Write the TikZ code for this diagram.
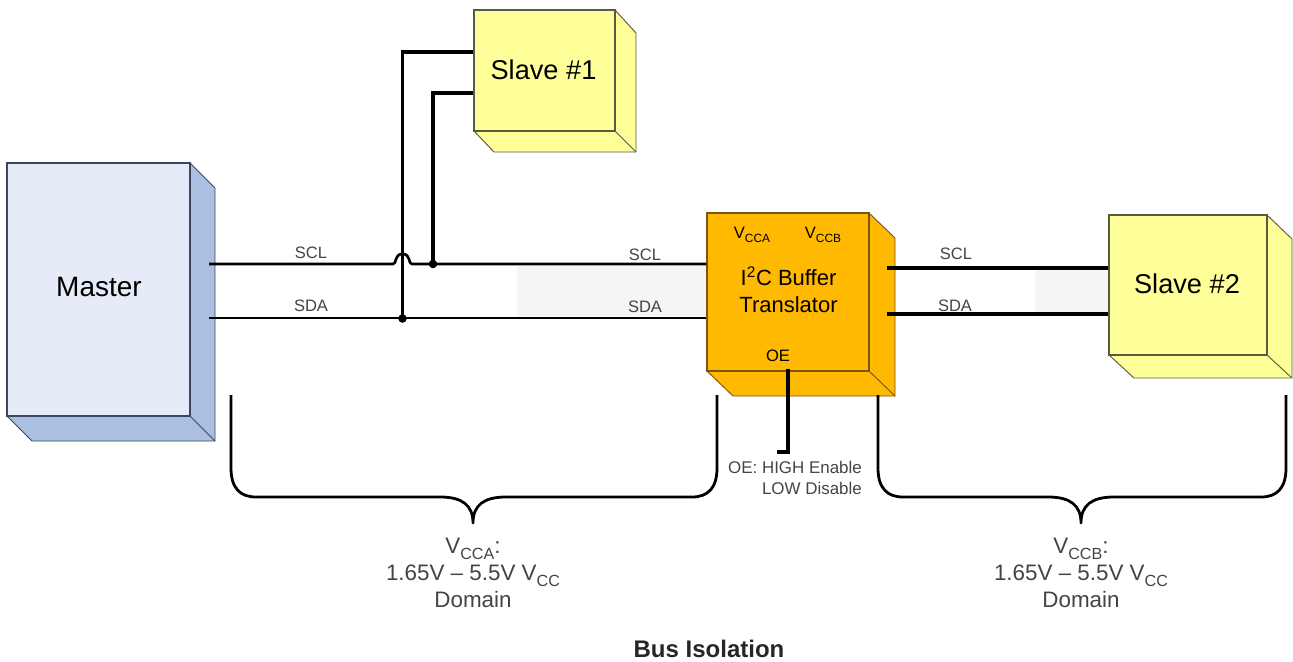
\documentclass[tikz,border=0pt]{standalone}
\usepackage{fontspec}
\setmainfont{Liberation Sans}
\newcommand{\fz}[2]{\fontsize{#1}{#2}\selectfont}
\newcommand{\lowsub}[1]{\raisebox{-0.28em}{\fontsize{0.72em}{1em}\selectfont #1}}
\definecolor{mfront}{HTML}{E6ECF7}
\definecolor{mside}{HTML}{ABC0E0}
\definecolor{sfront}{HTML}{FFFF99}
\definecolor{sside}{HTML}{FFFF99}
\definecolor{bfill}{HTML}{FFB900}
\definecolor{mline}{HTML}{3A4560}
\definecolor{sline}{HTML}{5A5A40}
\definecolor{bline}{HTML}{7A5518}
\definecolor{lab}{HTML}{444444}
\tikzset{
  face/.style={draw, rectangle, inner sep=0pt, line width=0.8pt, text=black, align=center},
  cubeline/.style={line width=0.7pt, line join=round},
  wirethin/.style={line width=2pt, black},
  wirethick/.style={line width=2.6pt, black},
  bracket/.style={line width=2.1pt, black, line join=round},
  jdot/.style={circle, fill=black, inner sep=0pt, minimum size=6.4pt},
  smalllab/.style={text=lab, font=\fz{12.4pt}{15pt}, inner sep=0pt},
  vlab/.style={text=black, font=\fz{12.4pt}{15pt}, inner sep=0pt},
  domlabel/.style={text=lab, font=\fz{16.8pt}{20.2pt}, align=center, inner sep=0pt},
  notelabel/.style={text=lab, font=\fz{12.7pt}{15.7pt}, align=right, inner sep=0pt},
  faintshade/.style={fill=black!4, draw=none},
}
\begin{document}
\begin{tikzpicture}[x=0.75pt,y=-0.75pt]
\useasboundingbox (0,0) rectangle (1293,661);
% faint shading
\fill[faintshade] (517,266) rectangle (707,316);
\fill[faintshade] (1035,270) rectangle (1109,312);
% Master
\filldraw[cubeline, fill=mside, draw=mline] (190,163) -- (215,188) -- (215,441) -- (32,441) -- (7,416) -- (190,416) -- cycle;
\draw[cubeline, draw=mline] (190,416) -- (215,441);
\node[face, fill=mfront, draw=mline, minimum width=137.25pt, minimum height=189.75pt] (master) at (98.5,289.5) {};
\node[inner sep=0pt, font=\fz{21pt}{25pt}] (mastertext) at (99,287) {Master};
% Slave 1
\filldraw[cubeline, fill=sside, draw=sline] (615,10) -- (636,33) -- (636,152) -- (494,152) -- (474,131) -- (615,131) -- cycle;
\draw[cubeline, draw=sline] (615,131) -- (636,152);
\node[face, fill=sfront, draw=sline, minimum width=105.75pt, minimum height=90.75pt] (slave1) at (544.5,70.5) {};
\node[inner sep=0pt, font=\fz{20.4pt}{25pt}] (slave1text) at (543.5,70) {Slave \#1};
% Buffer
\filldraw[cubeline, fill=bfill, draw=bline] (869,213) -- (895,238) -- (895,396) -- (733,396) -- (707,371) -- (869,371) -- cycle;
\draw[cubeline, draw=bline] (869,371) -- (895,396);
\node[face, fill=bfill, draw=bline, minimum width=121.5pt, minimum height=118.5pt] (buffer) at (788,292) {};
\node[vlab] (vcca) at (752,235) {V\lowsub{CCA}};
\node[vlab] (vccb) at (823,235) {V\lowsub{CCB}};
\node[inner sep=0pt, font=\fz{16.5pt}{20.2pt}, align=center] (buftext) at (788.5,290) {I\textsuperscript{2}C Buffer\\Translator};
\node[vlab] (oe) at (778,356) {OE};
% Slave 2
\filldraw[cubeline, fill=sside, draw=sline] (1267,215) -- (1292,239) -- (1292,378) -- (1134,378) -- (1109,355) -- (1267,355) -- cycle;
\draw[cubeline, draw=sline] (1267,355) -- (1292,378);
\node[face, fill=sfront, draw=sline, minimum width=118.5pt, minimum height=105pt] (slave2) at (1188,285) {};
\node[inner sep=0pt, font=\fz{20.4pt}{25pt}] (slave2text) at (1187,284) {Slave \#2};
% connection points
\coordinate (msclout) at (209,264);
\coordinate (msdaout) at (209,318);
\coordinate (hopa) at (393,264);
\coordinate (hopb) at (412,264);
\coordinate (hoptop) at (402.5,254);
\coordinate (bsclin) at (buffer.west |- 0,264);
\coordinate (bsdain) at (buffer.west |- 0,318);
\coordinate (jsda) at (402.5,318.5);
\coordinate (jscl) at (433,264);
\coordinate (s1a) at (slave1.west |- 0,52);
\coordinate (s1b) at (slave1.west |- 0,93);
\coordinate (bsclout) at (887,268);
\coordinate (bsdaout) at (887,314);
\coordinate (s2scl) at (slave2.west |- 0,268);
\coordinate (s2sda) at (slave2.west |- 0,314);
\coordinate (oetop) at (788,369);
\coordinate (oefoot) at (777,452);
% wires
\draw[wirethin] (msclout) -- (hopa) .. controls (397,264) and (394,254) .. (hoptop) .. controls (411,254) and (408,264) .. (hopb) -- (bsclin);
\draw[wirethin] (msdaout) -- (bsdain);
\draw[wirethick, line join=miter] (s1a) -| (jsda);
\draw[wirethick, line join=miter] (s1b) -| (jscl);
\node[jdot] (dotsda) at (jsda) {};
\node[jdot] (dotscl) at (jscl) {};
\draw[wirethick] (bsclout) -- (s2scl);
\draw[wirethick] (bsdaout) -- (s2sda);
\draw[wirethick, line join=miter] (oetop) |- (oefoot);
% labels
\node[smalllab] (l1) at (311,253) {SCL};
\node[smalllab] (l2) at (311,306) {SDA};
\node[smalllab] (l3) at (645,255) {SCL};
\node[smalllab] (l4) at (645,307) {SDA};
\node[smalllab] (l5) at (956,254) {SCL};
\node[smalllab] (l6) at (955,306) {SDA};
% braces
\draw[bracket] (231,395) -- (231,468) .. controls (231,488) and (240,497) .. (256,497) -- (440,497) .. controls (462,497) and (473,505) .. (473,523) .. controls (473,505) and (484,497) .. (506,497) -- (692,497) .. controls (708,497) and (717,488) .. (717,468) -- (717,395);
\draw[bracket] (878,395) -- (878,468) .. controls (878,488) and (887,497) .. (903,497) -- (1048,497) .. controls (1070,497) and (1081,505) .. (1081,523) .. controls (1081,505) and (1092,497) .. (1114,497) -- (1261,497) .. controls (1277,497) and (1286,488) .. (1286,468) -- (1286,395);
% domains
\node[domlabel] (da) at (473,573) {V\lowsub{CCA}:\\1.65V -- 5.5V V\lowsub{CC}\\Domain};
\node[domlabel] (db) at (1081,573) {V\lowsub{CCB}:\\1.65V -- 5.5V V\lowsub{CC}\\Domain};
\node[notelabel] (oenote) at (795,478) {OE: HIGH Enable\\LOW Disable};
\node[inner sep=0pt, text=black!85, font=\fz{18pt}{20pt}\bfseries] (title) at (709,649) {Bus Isolation};
\end{tikzpicture}
\end{document}
